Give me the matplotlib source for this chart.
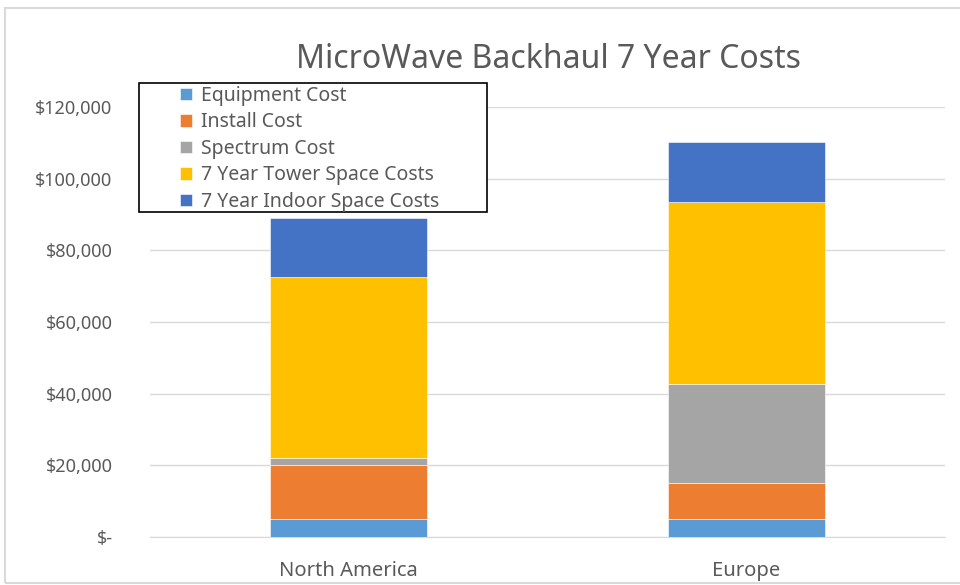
import matplotlib
matplotlib.use("Agg")
import matplotlib.pyplot as plt
from matplotlib.patches import Rectangle
from matplotlib.ticker import FuncFormatter
import numpy as np

plt.rcParams['font.family'] = ['Noto Sans', 'DejaVu Sans']

categories = ["North America", "Europe"]
series_names = ["Equipment Cost", "Install Cost", "Spectrum Cost",
                "7 Year Tower Space Costs", "7 Year Indoor Space Costs"]
equipment = [5000, 5000]
install = [15000, 10000]
spectrum = [2000, 27800]
tower = [50500, 50600]
indoor = [16500, 16800]
colors = ["#5B9BD5", "#ED7D31", "#A5A5A5", "#FFC000", "#4472C4"]
y_ticks = [0, 20000, 40000, 60000, 80000, 100000, 120000]

fig = plt.figure(figsize=(9.6, 5.85), dpi=100)
ax = fig.add_axes([150/960, 48/585, 795/960, 430/585])

x = np.arange(len(categories))
bottom = np.zeros(len(categories))
handles = []
for name, vals, c in zip(series_names, [equipment, install, spectrum, tower, indoor], colors):
    b = ax.bar(x, vals, 0.395, bottom=bottom, color=c, label=name,
               edgecolor="white", linewidth=0.4, zorder=3)
    handles.append(b)
    bottom += np.array(vals)

ax.set_xlim(-0.5, 1.5)
ax.set_ylim(0, 120000)
ax.set_yticks(y_ticks)
ax.yaxis.set_major_formatter(FuncFormatter(lambda v, p: "$-" if v == 0 else f"${v:,.0f}"))
ax.set_xticks(x)
ax.set_xticklabels(categories)
ax.grid(axis="y", color="#d9d9d9", linewidth=1, zorder=0)
for s in ["top", "right", "left"]:
    ax.spines[s].set_visible(False)
ax.spines["bottom"].set_color("#d9d9d9")
ax.tick_params(axis="both", length=0, colors="#595959")
ax.tick_params(axis="y", pad=27, labelsize=13)
ax.tick_params(axis="x", pad=17, labelsize=14.5)

fig.text(548/960, 1 - 60/585, "MicroWave Backhaul 7 Year Costs", ha="center", va="center",
         fontsize=23, color="#595959")

# legend box
fig.patches.append(Rectangle((139/960, 1 - 212/585), 348/960, 129/585, transform=fig.transFigure,
                             facecolor="white", edgecolor="black", linewidth=1.2, zorder=5))
leg = fig.legend(handles=handles, loc="upper left", bbox_to_anchor=(180/960, 1 - 86/585),
                 frameon=False, fontsize=14, handlelength=0.62,
                 handleheight=0.62, handletextpad=0.45, labelspacing=0.33,
                 borderpad=0, borderaxespad=0, labelcolor="#595959")
leg.set_zorder(6)

fig.patches.append(Rectangle((5/960, 2/585), 1.0, 575/585, transform=fig.transFigure,
                             fill=False, edgecolor="#d9d9d9", linewidth=1.5))

fig.savefig("out.png", dpi=100)
